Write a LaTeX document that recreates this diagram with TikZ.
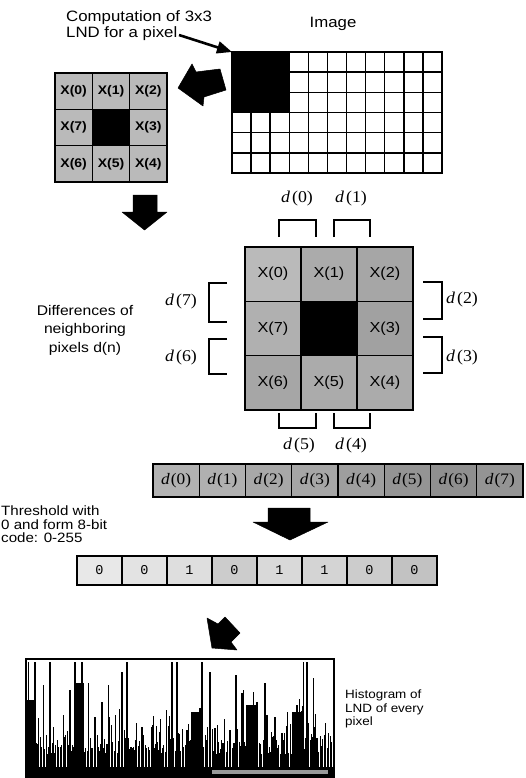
\documentclass[tikz,border=0pt]{standalone}
\usepackage{fontspec}
\setmainfont{Liberation Sans}[FakeStretch=1.12]
\newfontfamily\serifd{Liberation Serif}[FakeStretch=1.08]
\newfontfamily\monof{Liberation Mono}
\usetikzlibrary{arrows.meta}
\begin{document}
\begin{tikzpicture}[x=1pt,y=-1pt,
  txt/.style={inner sep=0pt, font=\fontsize{15}{16}\selectfont},
  txtsm/.style={inner sep=0pt, font=\fontsize{13.5}{13.5}\selectfont},
  gl/.style={line width=1.4pt, line cap=rect},
  cellS/.style={draw=black, line width=1.1pt, minimum width=37.33pt, minimum height=36.33pt, inner sep=0pt, font=\bfseries\fontsize{12.5}{13}\selectfont},
  cellB/.style={draw=black, line width=1.2pt, minimum width=56pt, minimum height=54.33pt, inner sep=0pt, font=\fontsize{14.5}{16}\selectfont},
  dlab/.style={inner sep=0pt, font=\serifd\fontsize{16.5}{17}\selectfont},
  brk/.style={line width=1.3pt},
  drbox/.style={draw=black, line width=1.3pt, minimum width=46.25pt, minimum height=33pt, inner sep=0pt, font=\serifd\fontsize{16}{16}\selectfont},
  bbox/.style={draw=black, line width=1.1pt, minimum width=45pt, minimum height=29pt, inner sep=0pt, font=\monof\fontsize{13.5}{14}\selectfont},
  blockarrow/.style={fill=black, draw=black, line width=0.5pt, line join=round},
  bar/.style={line width=0.9pt, black}
]
\useasboundingbox (0,0) rectangle (525,778);
\fill[white] (0,0) rectangle (525,778);

% ---------- top texts ----------
\node[txt, align=left, anchor=north west] (comp) at (66,10) {Computation of 3x3\\LND for a pixel};
\node[txt, anchor=base] (imglbl) at (333,28) {Image};

% ---------- image grid ----------
\node[minimum width=210pt, minimum height=121pt, anchor=north west, inner sep=0pt] (img) at (232,52) {};
\fill[black] (232,52) rectangle (289.3,112.5);
\foreach \i in {0,...,11} \draw[gl] ({232+\i*19.0909},52) -- ({232+\i*19.0909},173);
\foreach \j in {0,...,6} \draw[gl] (232,{52+\j*20.1667}) -- (442,{52+\j*20.1667});

\coordinate (a1s) at (179,35);
\draw[line width=2.6pt, -{Triangle[length=15pt,width=12pt]}] (a1s) -- (img.north west);

% ---------- block arrow to small grid ----------
\filldraw[blockarrow] (178,88) -- (192,64) -- (196,72) -- (220,69) -- (226,90) -- (204,97) -- (203,106) -- cycle;

% ---------- small 3x3 ----------
\foreach \cc/\rr/\lab [count=\k] in {0/0/X(0),1/0/X(1),2/0/X(2),0/1/X(7),2/1/X(3),0/2/X(6),1/2/X(5),2/2/X(4)}
  \node[cellS, fill=black!27] (s\k) at ({55+37.33*(\cc+0.5)},{73+36.33*(\rr+0.5)}) {\lab};
\node[cellS, fill=black] (sc) at ({55+37.33*1.5},{73+36.33*1.5}) {};
\draw[line width=1.6pt] (55,73) rectangle (167,182);

% ---------- down arrow 1 ----------
\filldraw[blockarrow] (133,195) -- (157,195) -- (157,212) -- (167,212) -- (144.5,230) -- (122,212) -- (133,212) -- cycle;

% ---------- big 3x3 ----------
\foreach \cc/\rr/\lab/\pp [count=\k] in {0/0/X(0)/27,1/0/X(1)/33,2/0/X(2)/35,0/1/X(7)/31,2/1/X(3)/37,0/2/X(6)/35,1/2/X(5)/33,2/2/X(4)/33}
  \node[cellB, fill=black!\pp] (b\k) at ({245+56*(\cc+0.5)},{247+54.33*(\rr+0.5)}) {\lab};
\node[cellB, fill=black] (bc) at ({245+56*1.5},{247+54.33*1.5}) {};
\draw[line width=2pt] (245,247) rectangle (413,410);

% ---------- brackets and d labels ----------
\draw[brk] (279,237) -- (279,220) -- (316,220) -- (316,237);
\draw[brk] (334,237) -- (334,220) -- (370,220) -- (370,237);
\node[dlab] (ld0) at (297,199) {\textit{d}\hspace{2pt}(0)};
\node[dlab] (ld1) at (351,199) {\textit{d}\hspace{2pt}(1)};

\draw[brk] (227,283) -- (209,283) -- (209,322) -- (227,322);
\draw[brk] (227,339) -- (209,339) -- (209,374) -- (227,374);
\node[dlab] (ld7) at (181,302) {\textit{d}\hspace{2pt}(7)};
\node[dlab] (ld6) at (181,358) {\textit{d}\hspace{2pt}(6)};

\draw[brk] (423,282) -- (442,282) -- (442,319) -- (423,319);
\draw[brk] (423,337) -- (442,337) -- (442,373) -- (423,373);
\node[dlab] (ld2) at (462,300) {\textit{d}\hspace{2pt}(2)};
\node[dlab] (ld3) at (462,358) {\textit{d}\hspace{2pt}(3)};

\draw[brk] (279,413) -- (279,428) -- (316,428) -- (316,413);
\draw[brk] (334,413) -- (334,428) -- (370,428) -- (370,413);
\node[dlab] (ld5) at (299,446) {\textit{d}\hspace{2pt}(5)};
\node[dlab] (ld4) at (351,446) {\textit{d}\hspace{2pt}(4)};

\node[txt, align=center, font=\fontsize{14}{18.5}\selectfont] (diff) at (85,330) {Differences of\\neighboring\\pixels d(n)};

% ---------- d row ----------
\foreach \i/\pp in {0/30,1/31,2/34,3/35,4/38,5/42,6/44,7/42}
  \node[drbox, fill=black!\pp] (dr\i) at ({153+46.25*(\i+0.5)},480.5) {\textit{d}\hspace{1pt}(\i)};
\draw[line width=2pt] (153,464) rectangle (523,497);

\node[txtsm, align=left, anchor=north west] (thr) at (1,506) {Threshold with\\0 and form 8-bit\\code: 0-255};

% ---------- down arrow 2 ----------
\filldraw[blockarrow] (268,508) -- (310,508) -- (310,522) -- (328,522) -- (290,540) -- (253,522) -- (268,522) -- cycle;

% ---------- binary row ----------
\foreach \i/\v/\pp in {0/0/9,1/0/11,2/1/13,3/0/20,4/1/15,5/1/17,6/0/20,7/0/24}
  \node[bbox, fill=black!\pp] (bb\i) at ({77+45*(\i+0.5)},570.5) {\v};
\draw[line width=1.6pt] (77,556) rectangle (437,585);

% ---------- block arrow to histogram ----------
\filldraw[blockarrow] (212,648) -- (207,618) -- (218,624) -- (225,617) -- (240,633) -- (231,642) -- (237,650) -- cycle;

% ---------- histogram ----------
\pgfmathsetseed{11}
\foreach \i in {0,...,214} {
  \pgfmathsetmacro{\xx}{27.5+\i*1.42}
  \pgfmathsetmacro{\hh}{14+48*rnd*rnd}
  \draw[bar] (\xx,768) -- (\xx,{768-\hh});
}
\foreach \i in {0,...,100} {
  \pgfmathsetmacro{\xx}{28+\i*3.02}
  \pgfmathsetmacro{\hh}{20+70*rnd*rnd*rnd}
  \draw[bar] (\xx,768) -- (\xx,{768-\hh});
}
\fill[black] (26,700) rectangle (34,768);
\fill[black] (75,683) rectangle (84,768);
\fill[black] (191,712) rectangle (201,768);
\fill[black] (246,705) rectangle (258,768);
\fill[black] (292,712) rectangle (300,768);
\foreach \xx/\tt in {28.3/662,35/662,43.3/685,50/662,53.3/727,63.3/715,70/690,75/662,78.3/683,81.7/662,88.3/683,95/717,101.7/702,108.3/685,121.7/672,126.7/662,141.7/727,152.7/725,160/732,171.7/662,176.7/662,186.7/730,191.7/712,196.7/715,200/708,201.7/662,210/672,215/728,230/730,236/675,241.7/693,243.3/690,250/705,253.3/692,256.7/702,265/683,266.7/715,275/717,281.7/733,286.7/726,296.7/705,300/712,303.3/662,306.7/662,313.3/678,316.7/738,325/735}
  \draw[line width=1.6pt] (\xx,768) -- (\xx,\tt);
\fill[black] (25,767) rectangle (333,777);
\fill[black!40] (212,770) rectangle (328,774);
\node[draw=black, line width=2.4pt, minimum width=308pt, minimum height=119pt, anchor=north west, inner sep=0pt] (hist) at (25,658) {};

\node[txtsm, align=left, anchor=north west, font=\fontsize{12}{13.5}\selectfont] (htxt) at (345,690) {Histogram of\\LND of every\\pixel};
\end{tikzpicture}
\end{document}
